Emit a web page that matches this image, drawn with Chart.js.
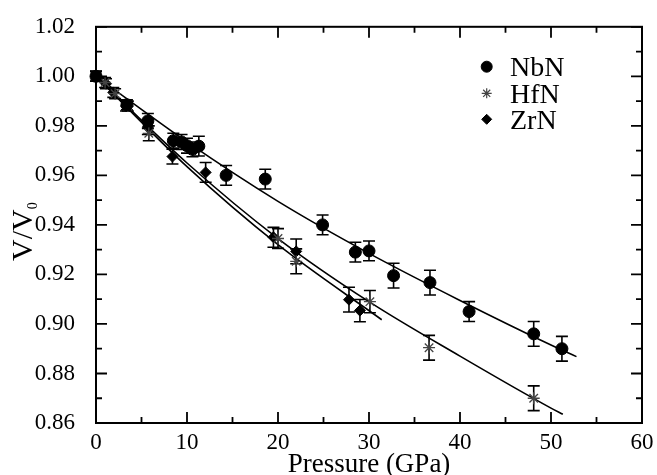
<!DOCTYPE html>
<html>
<head>
<meta charset="utf-8">
<script src="https://cdn.jsdelivr.net/npm/chart.js@4/dist/chart.umd.min.js"></script>
<style>
  html, body { margin: 0; padding: 0; background: #fff; }
  canvas { display: block; }
</style>
</head>
<body>
<canvas id="eosChart" width="657" height="475"></canvas>
<script>
// measured compression data, V/V0 vs pressure (GPa), with error bars
const nbnPressure = [0, 3.4, 5.7, 8.5, 9.4, 10.0, 10.6, 11.3, 14.3, 18.6, 24.9, 28.5, 30.0, 32.7, 36.7, 41.0, 48.1, 51.2];
const nbnVolume   = [1.000, 0.9885, 0.982, 0.974, 0.9735, 0.972, 0.9705, 0.9718, 0.960, 0.9585, 0.940, 0.929, 0.9295, 0.9195, 0.9167, 0.905, 0.896, 0.890];
const nbnError    = [0.002, 0.002, 0.003, 0.003, 0.003, 0.003, 0.003, 0.004, 0.004, 0.004, 0.004, 0.004, 0.004, 0.005, 0.005, 0.004, 0.005, 0.005];

const hfnPressure = [0, 1.0, 2.1, 3.5, 5.8, 20.0, 22.0, 30.1, 36.6, 48.1];
const hfnVolume   = [1.000, 0.9975, 0.993, 0.988, 0.977, 0.9345, 0.9253, 0.909, 0.8904, 0.870];
const hfnError    = [0.002, 0.002, 0.002, 0.002, 0.003, 0.004, 0.005, 0.0045, 0.005, 0.005];

const zrnPressure = [0, 1.1, 1.9, 3.3, 5.7, 8.4, 12.05, 19.5, 22.0, 27.8, 29.0];
const zrnVolume   = [1.000, 0.997, 0.9935, 0.988, 0.9795, 0.9676, 0.9612, 0.935, 0.9293, 0.9098, 0.9054];
const zrnError    = [0.002, 0.002, 0.002, 0.002, 0.003, 0.003, 0.004, 0.004, 0.005, 0.005, 0.0045];

// equation-of-state fit curves
const nbnFitPressure = [0, 10, 20, 30, 40, 50, 52.8];
const nbnFitVolume   = [1.000, 0.9735, 0.9495, 0.9285, 0.9095, 0.8915, 0.8868];
const hfnFitPressure = [0, 10, 20, 30, 40, 50, 51.3];
const hfnFitVolume   = [1.000, 0.965, 0.9345, 0.909, 0.887, 0.866, 0.8635];
const zrnFitPressure = [0, 10, 20, 31.4];
const zrnFitVolume   = [1.000, 0.9635, 0.932, 0.9017];

const legendLabels = ['NbN', 'HfN', 'ZrN'];
const legendStyles = ['circle', 'star', 'rectRot'];

const SERIF = '"Liberation Serif", "DejaVu Serif", serif';

function toPoints(xs, ys) {
  return xs.map((x, i) => ({ x: x, y: ys[i] }));
}

function fitLine(xs, ys) {
  return {
    type: 'line',
    data: toPoints(xs, ys),
    borderColor: '#000',
    borderWidth: 1.6,
    pointRadius: 0,
    fill: false,
    cubicInterpolationMode: 'monotone',
    order: 2
  };
}

function markers(label, xs, ys, errs, style, radius, color) {
  return {
    type: 'scatter',
    label: label,
    data: toPoints(xs, ys),
    errors: errs,
    pointStyle: style,
    pointRadius: radius,
    pointBackgroundColor: color,
    pointBorderColor: color,
    pointBorderWidth: style === 'star' ? 1.3 : 1,
    clip: false,
    order: 1
  };
}

// vertical error bars with caps
const errorBars = {
  id: 'errorBars',
  beforeDatasetsDraw(chart) {
    const ctx = chart.ctx;
    const ys = chart.scales.y;
    const xs = chart.scales.x;
    ctx.save();
    ctx.strokeStyle = '#000';
    ctx.lineWidth = 1.6;
    chart.data.datasets.forEach(ds => {
      if (!ds.errors) return;
      ds.data.forEach((p, i) => {
        const px = xs.getPixelForValue(p.x);
        const top = ys.getPixelForValue(p.y + ds.errors[i]);
        const bot = ys.getPixelForValue(p.y - ds.errors[i]);
        ctx.beginPath();
        ctx.moveTo(px, top); ctx.lineTo(px, bot);
        ctx.moveTo(px - 6, top); ctx.lineTo(px + 6, top);
        ctx.moveTo(px - 6, bot); ctx.lineTo(px + 6, bot);
        ctx.stroke();
      });
    });
    ctx.restore();
  }
};

// boxed frame with inward major/minor ticks on all four sides, axis titles, legend
const frame = {
  id: 'frame',
  afterDraw(chart) {
    const ctx = chart.ctx;
    const a = chart.chartArea;
    const xs = chart.scales.x;
    const ys = chart.scales.y;
    ctx.save();
    ctx.strokeStyle = '#000';
    ctx.lineWidth = 2;
    ctx.strokeRect(a.left, a.top, a.right - a.left, a.bottom - a.top);

    ctx.lineWidth = 1.8;
    ctx.beginPath();
    for (let v = 0; v <= 60 + 1e-9; v += 5) {
      const px = xs.getPixelForValue(v);
      const len = (Math.round(v) % 10 === 0) ? 11 : 6;
      ctx.moveTo(px, a.bottom); ctx.lineTo(px, a.bottom - len);
      ctx.moveTo(px, a.top); ctx.lineTo(px, a.top + len);
    }
    for (let k = 0; k <= 16; k++) {
      const v = 0.86 + k * 0.01;
      const py = ys.getPixelForValue(v);
      const len = (k % 2 === 0) ? 11 : 6;
      ctx.moveTo(a.left, py); ctx.lineTo(a.left + len, py);
      ctx.moveTo(a.right, py); ctx.lineTo(a.right - len, py);
    }
    ctx.stroke();

    ctx.fillStyle = '#000';
    ctx.font = '27px ' + SERIF;
    ctx.textAlign = 'center';
    ctx.textBaseline = 'alphabetic';
    ctx.fillText('Pressure (GPa)', (a.left + a.right) / 2, 472);

    // y title: V/V0 with subscript, rotated
    ctx.save();
    ctx.translate(31.5, 261);
    ctx.rotate(-Math.PI / 2);
    ctx.textAlign = 'left';
    ctx.font = '30px ' + SERIF;
    ctx.fillText('V/V', 0, 0);
    const w = ctx.measureText('V/V').width;
    ctx.font = '14px ' + SERIF;
    ctx.fillText('0', w, 5);
    ctx.restore();

    // legend
    const rows = [66.7, 93.3, 119.3];
    legendLabels.forEach((lab, i) => {
      const style = legendStyles[i];
      ctx.fillStyle = style === 'star' ? '#444' : '#000';
      ctx.strokeStyle = style === 'star' ? '#444' : '#000';
      ctx.lineWidth = style === 'star' ? 1.2 : 1;
      Chart.helpers.drawPoint(ctx, { pointStyle: style, rotation: 0, radius: style === 'circle' ? 5.5 : 5, borderWidth: ctx.lineWidth }, 486.7, rows[i]);
      ctx.fillStyle = '#000';
      ctx.font = '28px ' + SERIF;
      ctx.textAlign = 'left';
      ctx.textBaseline = 'alphabetic';
      ctx.fillText(lab, 510, rows[i] + 9.5);
    });
    ctx.restore();
  }
};

new Chart(document.getElementById('eosChart').getContext('2d'), {
  data: {
    datasets: [
      fitLine(nbnFitPressure, nbnFitVolume),
      fitLine(hfnFitPressure, hfnFitVolume),
      fitLine(zrnFitPressure, zrnFitVolume),
      markers('NbN', nbnPressure, nbnVolume, nbnError, 'circle', 6, '#000'),
      markers('HfN', hfnPressure, hfnVolume, hfnError, 'star', 6, '#444'),
      markers('ZrN', zrnPressure, zrnVolume, zrnError, 'rectRot', 5.5, '#000')
    ]
  },
  options: {
    responsive: false,
    animation: false,
    devicePixelRatio: 1,
    layout: { padding: { left: 0, top: 22, right: 15, bottom: 0 } },
    plugins: {
      legend: { display: false },
      tooltip: { enabled: false }
    },
    scales: {
      x: {
        type: 'linear',
        min: 0,
        max: 60,
        grid: { display: false },
        border: { display: false },
        ticks: {
          stepSize: 10,
          padding: -2,
          color: '#000',
          font: { family: SERIF, size: 23 }
        },
        afterFit(scale) { scale.height = 52; }
      },
      y: {
        type: 'linear',
        min: 0.86,
        max: 1.02,
        grid: { display: false },
        border: { display: false },
        ticks: {
          stepSize: 0.02,
          padding: 13,
          color: '#000',
          font: { family: SERIF, size: 23 },
          callback: v => v.toFixed(2)
        },
        afterFit(scale) { scale.width = 96; }
      }
    }
  },
  plugins: [errorBars, frame]
});
</script>
</body>
</html>
